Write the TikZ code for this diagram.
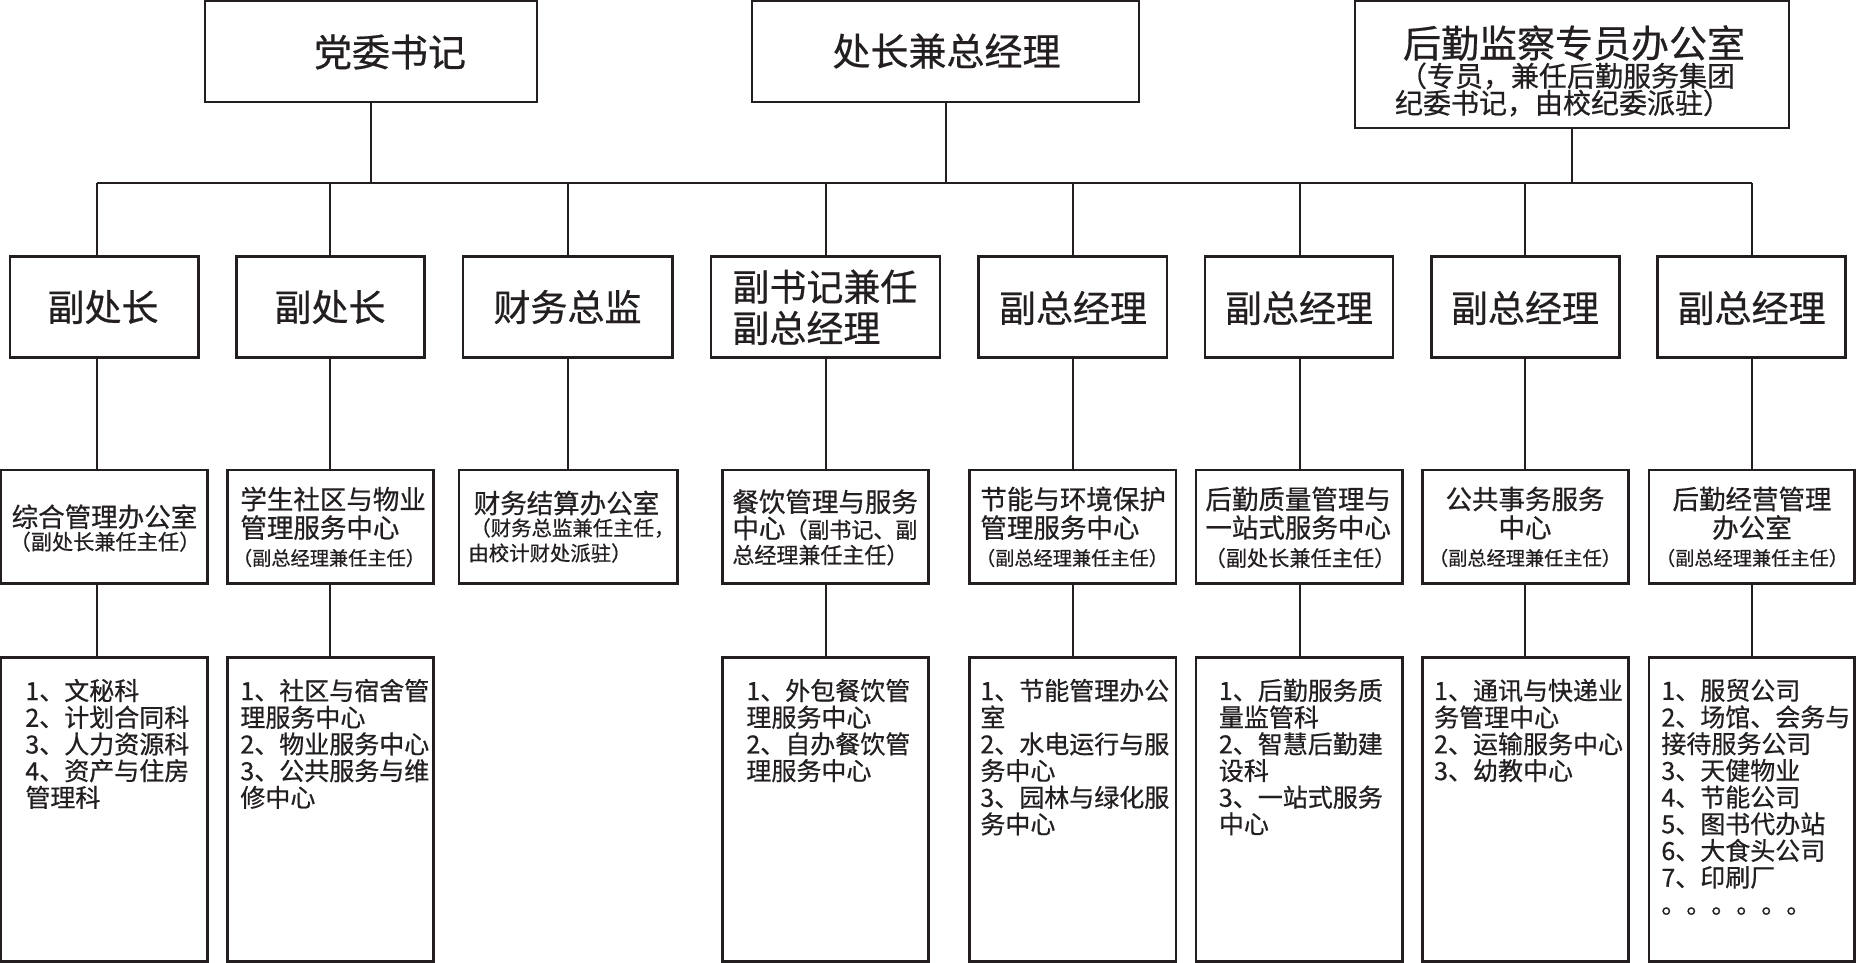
\documentclass[tikz,border=0pt]{standalone}
\usepackage{fontspec}
\setmainfont{Noto Sans CJK SC}[FakeBold=0.6]
\usetikzlibrary{fit}
\definecolor{ink}{RGB}{35,31,32}
\newcommand{\fTop}{\fontsize{19pt}{21pt}\selectfont}
\newcommand{\fSub}{\fontsize{14pt}{15pt}\selectfont}
\newcommand{\fTwo}{\fontsize{18.5pt}{20pt}\selectfont}
\newcommand{\fThr}{\fontsize{13.25pt}{14pt}\selectfont}
\newcommand{\fParA}{\fontsize{10.6pt}{11pt}\selectfont}
\newcommand{\fParB}{\fontsize{9.6pt}{10pt}\selectfont}
\newcommand{\fParC}{\fontsize{10.2pt}{11pt}\selectfont}
\newcommand{\fParD}{\fontsize{11pt}{12pt}\selectfont}
\newcommand{\fFour}{\fontsize{12.5pt}{13.35pt}\selectfont}
\tikzset{
  box/.style={draw=ink, line width=1.4pt, inner sep=0pt},
  conn/.style={draw=ink, line width=1pt},
  txt/.style={inner sep=0pt, text=ink},
  list/.style={inner sep=0pt, text=ink, align=left, anchor=north west, font=\fFour},
}
\begin{document}
\begin{tikzpicture}[x=0.5pt,y=-0.5pt]
\useasboundingbox (0,0) rectangle (1857,963);
% ---------- top row ----------
\node[box, fit={(205,1) (537,102)}] (t1) {};
\node[box, fit={(752,1) (1139,102)}] (t2) {};
\node[box, fit={(1355,1) (1789,128)}] (t3) {};
\node[txt, font=\fTop] (t1a) at (390,52) {党委书记};
\node[txt, font=\fTop] (t2a) at (946.5,51) {处长兼总经理};
\node[txt, font=\fTop] (t3a) at (1574,43) {后勤监察专员办公室};
\node[txt, font=\fSub] (t3b) at (1567,76) {（专员，兼任后勤服务集团};
\node[txt, font=\fSub] (t3c) at (1563,103) {纪委书记，由校纪委派驻）};
% ---------- bus ----------
\coordinate (busL) at (96.7,183.3);
\coordinate (busR) at (1751.8,183.3);
\draw[conn] (busL) -- (busR);
\draw[conn] (t1.south) -- (t1.south |- busL);
\draw[conn] (t2.south) -- (t2.south |- busL);
\draw[conn] (t3.south) -- (t3.south |- busL);
\coordinate (d1) at (96.7,183.3);
\coordinate (d2) at (330.3,183.3);
\coordinate (d3) at (567.5,183.3);
\coordinate (d4) at (825.5,183.3);
\coordinate (d5) at (1073,183.3);
\coordinate (d6) at (1299.5,183.3);
\coordinate (d7) at (1525.3,183.3);
\coordinate (d8) at (1751.8,183.3);
% ---------- row 2 ----------
\node[box, fit={(10,256.7) (198.7,357.7)}] (a1) {};
\node[box, fit={(236.6,256.7) (424.6,357.7)}] (a2) {};
\node[box, fit={(463,256.7) (672.5,357.7)}] (a3) {};
\node[box, fit={(711,256.7) (940,357.7)}] (a4) {};
\node[box, fit={(978.5,256.7) (1167,357.7)}] (a5) {};
\node[box, fit={(1205,256.7) (1393,357.7)}] (a6) {};
\node[box, fit={(1431.3,256.7) (1619.3,357.7)}] (a7) {};
\node[box, fit={(1657.8,256.7) (1845.8,357.7)}] (a8) {};
\node[txt, font=\fTwo] (a1t) at (103,307) {副处长};
\node[txt, font=\fTwo] (a2t) at (330,307) {副处长};
\node[txt, font=\fTwo] (a3t) at (567.5,307) {财务总监};
\node[txt, font=\fTwo, anchor=west] (a4t) at (732,286.7) {副书记兼任};
\node[txt, font=\fTwo, anchor=west] (a4u) at (732,328) {副总经理};
\node[txt, font=\fTwo] (a5t) at (1073,308) {副总经理};
\node[txt, font=\fTwo] (a6t) at (1299,308) {副总经理};
\node[txt, font=\fTwo] (a7t) at (1525,308) {副总经理};
\node[txt, font=\fTwo] (a8t) at (1751.6,308) {副总经理};
% ---------- row 3 ----------
\node[box, fit={(0.6,470) (207.5,583.3)}] (b1) {};
\node[box, fit={(227.7,470) (433.5,583.3)}] (b2) {};
\node[box, fit={(459,470) (677.2,583.3)}] (b3) {};
\node[box, fit={(722.3,470) (928.5,583.3)}] (b4) {};
\node[box, fit={(969.6,470) (1176,583.3)}] (b5) {};
\node[box, fit={(1196,470) (1402.4,583.3)}] (b6) {};
\node[box, fit={(1422.5,470) (1628.8,583.3)}] (b7) {};
\node[box, fit={(1648.9,470) (1854.6,583.3)}] (b8) {};
% box 1
\node[txt, font=\fThr] (b1t) at (104.5,516.7) {综合管理办公室};
\node[txt, font=\fParA] (b1u) at (105,541.7) {（副处长兼任主任）};
% box 2
\node[txt, font=\fThr, anchor=west] (b2t) at (240,499) {学生社区与物业};
\node[txt, font=\fThr, anchor=west] (b2u) at (240,527.5) {管理服务中心};
\node[txt, font=\fParB] (b2v) at (329,558) {（副总经理兼任主任）};
% box 3
\node[txt, font=\fThr] (b3t) at (566.5,503) {财务结算办公室};
\node[txt, font=\fParC, anchor=west] (b3u) at (470,528) {（财务总监兼任主任，};
\node[txt, font=\fParC, anchor=west] (b3v) at (468,553) {由校计财处派驻）};
% box 4
\node[txt, font=\fThr, anchor=west] (b4t) at (732,501.7) {餐饮管理与服务};
\node[txt, anchor=west] (b4u) at (732,528) {{\fThr 中心}{\fParD （副书记、副}};
\node[txt, font=\fParD, anchor=west] (b4v) at (732,555) {总经理兼任主任）};
% box 5
\node[txt, font=\fThr, anchor=west] (b5t) at (980,499) {节能与环境保护};
\node[txt, font=\fThr, anchor=west] (b5u) at (980,527.5) {管理服务中心};
\node[txt, font=\fParB] (b5v) at (1072,558) {（副总经理兼任主任）};
% box 6
\node[txt, font=\fThr, anchor=west] (b6t) at (1205,499) {后勤质量管理与};
\node[txt, font=\fThr, anchor=west] (b6u) at (1205,527.5) {一站式服务中心};
\node[txt, font=\fParA] (b6v) at (1300,558) {（副处长兼任主任）};
% box 7
\node[txt, font=\fThr] (b7t) at (1525,499) {公共事务服务};
\node[txt, font=\fThr] (b7u) at (1525,527.5) {中心};
\node[txt, font=\fParB] (b7v) at (1525,558) {（副总经理兼任主任）};
% box 8
\node[txt, font=\fThr] (b8t) at (1752,499) {后勤经营管理};
\node[txt, font=\fThr] (b8u) at (1752,527.5) {办公室};
\node[txt, font=\fParB] (b8v) at (1752,558) {（副总经理兼任主任）};
% ---------- row 4 ----------
\node[box, fit={(0.6,657.3) (207.5,961.7)}] (c1) {};
\node[box, fit={(227.7,657.3) (433.5,961.7)}] (c2) {};
\node[box, fit={(722.3,657.3) (928.5,961.7)}] (c4) {};
\node[box, fit={(969.6,657.3) (1176,961.7)}] (c5) {};
\node[box, fit={(1196,657.3) (1402.4,961.7)}] (c6) {};
\node[box, fit={(1422.5,657.3) (1628.8,961.7)}] (c7) {};
\node[box, fit={(1648.9,657.3) (1854.6,961.7)}] (c8) {};
\node[list] (c1t) at (25,678.5) {1、文秘科\\2、计划合同科\\3、人力资源科\\4、资产与住房\\管理科};
\node[list] (c2t) at (240,678.5) {1、社区与宿舍管\\理服务中心\\2、物业服务中心\\3、公共服务与维\\修中心};
\node[list] (c4t) at (746,678.5) {1、外包餐饮管\\理服务中心\\2、自办餐饮管\\理服务中心};
\node[list] (c5t) at (980,678.5) {1、节能管理办公\\室\\2、水电运行与服\\务中心\\3、园林与绿化服\\务中心};
\node[list] (c6t) at (1218.5,678.5) {1、后勤服务质\\量监管科\\2、智慧后勤建\\设科\\3、一站式服务\\中心};
\node[list] (c7t) at (1433.7,678.5) {1、通讯与快递业\\务管理中心\\2、运输服务中心\\3、幼教中心};
\node[list] (c8t) at (1661,678.5) {1、服贸公司\\2、场馆、会务与\\接待服务公司\\3、天健物业\\4、节能公司\\5、图书代办站\\6、大食头公司\\7、印刷厂\\。。。。。。};
% ---------- connectors ----------
\foreach \i in {1,...,8} {
  \draw[conn] (d\i) -- (a\i.north -| d\i);
  \draw[conn] (a\i.south -| d\i) -- (b\i.north -| d\i);
}
\foreach \i in {1,2,4,5,6,7,8} {
  \draw[conn] (b\i.south -| d\i) -- (c\i.north -| d\i);
}
\end{tikzpicture}
\end{document}
